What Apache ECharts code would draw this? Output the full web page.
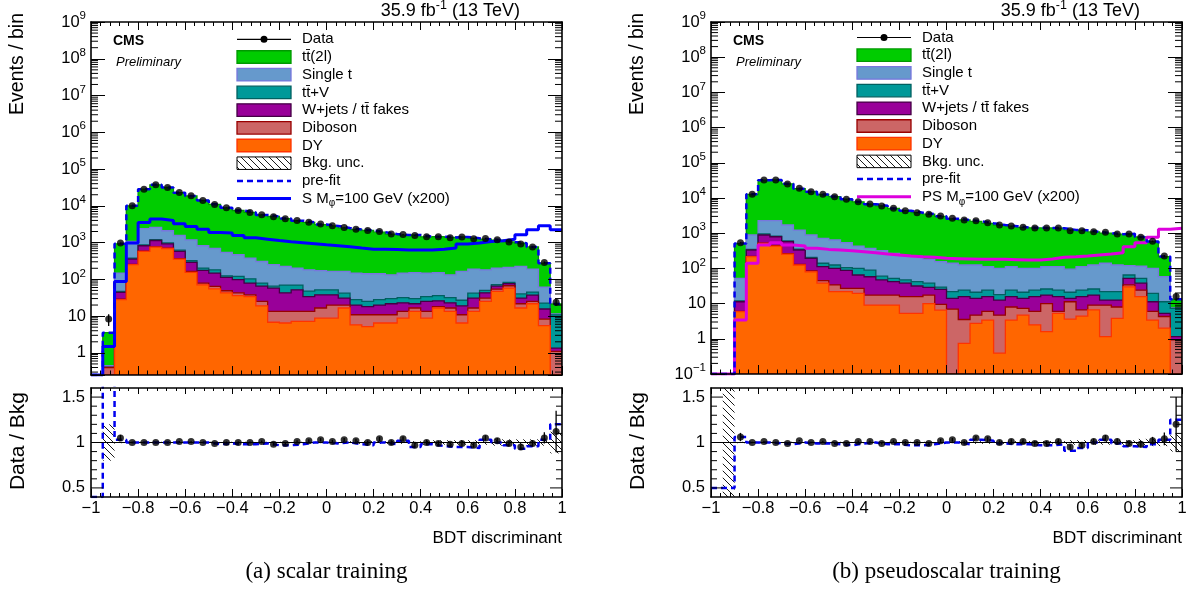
<!DOCTYPE html>
<html>
<head>
<meta charset="utf-8">
<title>BDT discriminant</title>
<script src="https://cdn.jsdelivr.net/npm/echarts@6.0.0/dist/echarts.min.js"></script>
<style>
  html, body { margin: 0; padding: 0; background: #fff; }
  #chart { width: 1196px; height: 592px; }
</style>
</head>
<body>
<div id="chart"></div>
<script>
// 40 bins of the BDT discriminant
const binEdges = [-1, -0.95, -0.9, -0.85, -0.8, -0.75, -0.7, -0.65, -0.6, -0.55, -0.5, -0.45, -0.4, -0.35, -0.3, -0.25,
  -0.2, -0.15, -0.1, -0.05, 0, 0.05, 0.1, 0.15, 0.2, 0.25, 0.3, 0.35, 0.4, 0.45, 0.5, 0.55, 0.6, 0.65, 0.7, 0.75, 0.8,
  0.85, 0.9, 0.95, 1];

// (a) scalar training - events per bin
const scalarDY = [0, 0, 28, 250, 573, 753, 690, 356, 155, 71, 55, 43, 36, 34, 19, 6.8, 6.5, 7.2, 7.2, 8.8, 8.8, 16.6,
  5.8, 5.2, 6.5, 6.5, 8.8, 13.4, 8.8, 16.6, 13.4, 6.5, 13.4, 25, 47, 58, 16.6, 21.7, 5.5, 0];
const scalarDiboson = [0, 0.4, 1, 5, 7, 7, 10, 9, 10, 8, 9, 6, 7, 4, 6, 6.7, 7, 6.2, 6.2, 7.8, 11.2, 3.4, 5.1, 5.7, 4.4,
  4.4, 4.6, 3.2, 4.6, 1.4, 3.2, 4.4, 3.2, 6, 7, 9, 5.1, 3.3, 2.8, 1.1];
const scalarWjets = [0, 0, 15, 101, 240, 380, 226, 208, 123, 96, 84, 64, 55, 41, 40, 44.5, 29.5, 38.6, 20.6, 21.4, 18,
  11, 9.1, 7.1, 9.1, 10.8, 9.6, 5.1, 11.6, 8, 6.4, 8.1, 14.4, 12, 11, 9, 9.3, 12, 7.3, 0.25];
const scalarTTV = [0, 0, 3, 19, 40, 60, 54, 47, 32, 28, 34, 12, 22, 24, 14, 7, 27, 18, 14, 14, 14, 11, 8, 7, 8, 8.3, 9,
  8.3, 9, 10, 9, 8, 11, 7, 7, 6, 9, 8, 7, 9.5];
const scalarSingleT = [0, 0.05, 101, 705, 1540, 1400, 1120, 940, 870, 617, 508, 415, 346, 275, 227, 185, 154, 133, 134,
  121, 112, 122, 120, 117, 114, 103, 116, 123, 114, 117, 101, 137, 148, 132, 131, 128, 184, 145, 39, 0.6];
const scalarTT2l = [0, 3.1, 776, 8920, 26000, 34600, 29400, 21200, 17300, 13180, 10310, 8290, 6990, 6220, 5320, 4870,
  4260, 3750, 3350, 2920, 2670, 2340, 2120, 1990, 1780, 1570, 1450, 1460, 1290, 1300, 1250, 1260, 1120, 1050, 967, 830,
  736, 573, 212, 9.9];
const scalarSignal = [0, 1.5, 87, 970, 3500, 4350, 3990, 3240, 2740, 2320, 1880, 1810, 1560, 1350, 1240, 1140, 1050, 990,
  930, 870, 820, 770, 710, 660, 660, 650, 630, 630, 630, 660, 710, 910, 970, 1070, 1120, 1240, 1630, 2230, 2860, 2230];
const scalarData = [null, 8.3, 970, 10000, 28400, 37200, 31500, 23000, 18700, 14000, 10900, 8830, 7460, 6600, 5690, 5020,
  4440, 3990, 3600, 3180, 2860, 2580, 2320, 2130, 2000, 1700, 1660, 1560, 1440, 1440, 1350, 1410, 1270, 1290, 1190, 1030,
  910, 755, 288, 24];
const scalarRatio = [null, null, 1.05, 1.0, 1.0, 1.0, 1.0, 1.01, 1.01, 1.0, 0.99, 1.0, 1.0, 1.0, 1.01, 0.98, 0.99, 1.01,
  1.02, 1.03, 1.01, 1.03, 1.02, 1.0, 1.04, 1.0, 1.04, 0.97, 1.0, 0.99, 0.98, 0.99, 0.97, 1.05, 1.02, 0.99, 0.95, 0.99,
  1.05, 1.12];
const scalarPrefitRatio = [0, 3, 1.03, 1, 1, 1, 1, 1, 1, 1, 0.98, 0.99, 0.98, 0.98, 0.99, 0.97, 0.97, 0.98, 1, 1, 0.99, 1,
  0.98, 0.97, 1, 0.98, 1.02, 0.95, 0.98, 0.96, 0.95, 0.95, 0.94, 1.03, 1, 0.97, 0.93, 0.96, 1.03, 1.2];
const scalarUnc = [0, 0.2, 0.008, 0.008, 0.008, 0.008, 0.008, 0.008, 0.008, 0.008, 0.008, 0.008, 0.008, 0.008, 0.008,
  0.008, 0.008, 0.008, 0.008, 0.008, 0.008, 0.015, 0.015, 0.015, 0.015, 0.015, 0.015, 0.015, 0.025, 0.025, 0.025, 0.025,
  0.025, 0.025, 0.035, 0.035, 0.035, 0.035, 0.035, 0.12];

// (b) pseudoscalar training - events per bin
const pseudoDY = [0, 0, 5.9, 215, 517, 432, 256, 125, 80, 38, 22, 22, 19.5, 9.1, 9.1, 9.1, 5.3, 5.3, 10, 6.5, 0, 0.74,
  2.75, 3.4, 0.39, 3.4, 4.7, 2.5, 1.6, 5.3, 3.6, 4.4, 6.6, 1.15, 3.8, 30, 15.7, 3.4, 2.0, 0];
const pseudoDiboson = [0, 0, 0.1, 3, 8, 8, 6, 5, 5, 7, 12, 5, 7.5, 8.4, 8.4, 8.4, 10.5, 10.5, 7.5, 3, 7, 2.8, 1.95, 2.6,
  4.3, 4.6, 2.6, 3.5, 8.4, 0.7, 7.7, 2.2, 2.4, 7.85, 4.2, 4, 8.3, 2.6, 2.3, 0.93];
const pseudoWjets = [0, 0, 5.3, 115, 364, 354, 313, 203, 108, 67, 66, 61, 38, 40.5, 29.5, 24.5, 22.2, 15.8, 11.5, 16, 7,
  12.3, 9.3, 9.8, 7.9, 7.8, 6.7, 9.8, 7.5, 9.8, 2.7, 9.2, 8.5, 3.6, 4.6, 18, 14, 5.3, 1.0, 0.22];
const pseudoTTV = [0, 0, 0.7, 12, 61, 36, 25, 17, 12, 28, 25, 17, 35, 31, 13, 10, 9, 10.4, 9, 4, 8, 8.2, 7, 8.2, 5.4, 8.2,
  7, 8.2, 8.5, 8.2, 7, 8.2, 8.5, 9.4, 9.4, 13, 14, 8.3, 6.0, 6.15];
const pseudoSingleT = [0, 0, 40, 544, 1320, 1440, 1110, 880, 684, 576, 516, 432, 332, 282, 259, 216, 178, 173, 143, 126,
  118, 101, 104, 88, 82, 88, 79, 76, 86, 88, 74, 88, 99, 118, 103, 55, 63, 80, 47, 0.3];
const pseudoTT2l = [0, 0, 455, 11800, 29900, 30200, 23500, 17200, 14200, 11850, 10370, 8720, 7360, 6320, 5670, 4760, 4135,
  3615, 3290, 2864, 2420, 2245, 2035, 1800, 1610, 1468, 1355, 1320, 1302, 1274, 1147, 1104, 964, 870, 815, 840, 665, 478,
  158, 5.6];
const pseudoSignal = [0, 0, 3.4, 140, 462, 537, 462, 432, 371, 347, 333, 319, 299, 280, 256, 240, 225, 215, 206, 193, 189,
  185, 181, 181, 181, 177, 173, 173, 185, 206, 215, 225, 240, 256, 280, 414, 537, 764, 1290, 1380];
const pseudoData = [null, null, 537, 12700, 32500, 32500, 25000, 18800, 15100, 12700, 10900, 9170, 7870, 6760, 5930, 5080,
  4360, 3830, 3440, 3080, 2640, 2370, 2270, 1990, 1710, 1600, 1470, 1410, 1400, 1400, 1180, 1180, 1100, 1060, 950, 950,
  764, 590, 225, 15.8];
const pseudoRatio = [null, null, 1.06, 1.0, 1.01, 1.0, 0.99, 1.02, 1.0, 1.01, 0.99, 0.99, 1.01, 1.01, 0.99, 1.01, 1.0, 1.0,
  0.99, 1.02, 1.03, 1.0, 1.05, 1.04, 1.0, 1.01, 1.01, 0.99, 0.99, 1.01, 0.95, 0.97, 1.01, 1.05, 1.01, 0.99, 0.98, 1.02,
  1.04, 1.2];
const pseudoPrefitRatio = [0.5, 0.5, 1.06, 1, 1, 0.99, 0.98, 1, 0.99, 0.99, 0.98, 0.97, 0.99, 1, 0.98, 0.98, 0.97, 0.97,
  0.98, 1, 1, 0.98, 1.03, 1.02, 0.99, 0.98, 0.98, 0.97, 0.97, 0.98, 0.91, 0.94, 1, 1.03, 0.99, 0.96, 0.95, 0.98, 1.03, 1.25];
const pseudoUnc = [0, 1, 0.008, 0.008, 0.008, 0.008, 0.008, 0.008, 0.008, 0.008, 0.008, 0.008, 0.008, 0.008, 0.008, 0.008,
  0.008, 0.008, 0.008, 0.008, 0.008, 0.015, 0.015, 0.015, 0.015, 0.015, 0.015, 0.015, 0.015, 0.015, 0.025, 0.025, 0.025,
  0.025, 0.025, 0.025, 0.04, 0.04, 0.04, 0.1];

const FONT = 'Liberation Sans';
const TT = 't\u0074\u0304';

// stack order, bottom to top
const layerStyles = [
  { name: 'DY', fill: '#ff6600', stroke: '#ff3300' },
  { name: 'Diboson', fill: '#cc6666', stroke: '#990000' },
  { name: 'W+jets / ' + TT + ' fakes', fill: '#990099', stroke: '#440044' },
  { name: TT + '+V', fill: '#009999', stroke: '#006060' },
  { name: 'Single t', fill: '#6699cc', stroke: '#7777dd' },
  { name: TT + '(2l)', fill: '#00cc00', stroke: '#009900' }
];

const panels = [
  {
    left: 91, upH: 353, ymin: 0.25, logInterval: null, legendY: 39.3,
    signalColor: '#0000ff', signalLabel: 'S M{sub|\u03c6}=100 GeV (x200)', caption: '(a) scalar training',
    stack: [scalarDY, scalarDiboson, scalarWjets, scalarTTV, scalarSingleT, scalarTT2l],
    data: scalarData, signal: scalarSignal, ratio: scalarRatio, prefit: scalarPrefitRatio, unc: scalarUnc
  },
  {
    left: 711, upH: 352, ymin: 0.1, logInterval: 1, legendY: 37.5,
    signalColor: '#dd00dd', signalLabel: 'PS M{sub|\u03c6}=100 GeV (x200)', caption: '(b) pseudoscalar training',
    stack: [pseudoDY, pseudoDiboson, pseudoWjets, pseudoTTV, pseudoSingleT, pseudoTT2l],
    data: pseudoData, signal: pseudoSignal, ratio: pseudoRatio, prefit: pseudoPrefitRatio, unc: pseudoUnc
  }
];

const PW = 471, RAT_TOP = 388, RAT_H = 109, RMIN = 0.4, RMAX = 1.6;
const centers = binEdges.slice(0, -1).map((e, i) => (e + binEdges[i + 1]) / 2);

// hatch pattern for the background uncertainty
const hatchCanvas = document.createElement('canvas');
hatchCanvas.width = 7; hatchCanvas.height = 7;
(function () {
  const g = hatchCanvas.getContext('2d');
  g.strokeStyle = '#000'; g.lineWidth = 0.9;
  g.beginPath();
  g.moveTo(-1, -1); g.lineTo(8, 8);
  g.moveTo(6, -1); g.lineTo(8, 1);
  g.moveTo(-1, 6); g.lineTo(1, 8);
  g.stroke();
})();
const hatch = { image: hatchCanvas, repeat: 'repeat' };

const grids = [], xAxes = [], yAxes = [], series = [], graphics = [];

function xFmt(v) {
  const s = String(Math.round(v * 10) / 10);
  return v < -1e-9 ? '\u2212' + s.slice(1) : s;
}
function logFmt(v) {
  const e = Math.log10(v), r = Math.round(e);
  if (Math.abs(e - r) > 1e-6) return '';
  if (r === 0) return '1';
  if (r === 1) return '10';
  return '10{s|' + (r < 0 ? '\u2212' + (-r) : r) + '}';
}
function ratioFmt(v) {
  for (const m of [0.5, 1, 1.5]) if (Math.abs(v - m) < 1e-6) return String(m);
  return '';
}

const lineAx = { onZero: false, lineStyle: { color: '#000', width: 1.6 } };
const tickStyle = { color: '#000', width: 1 };

function addX(grid, pos, showLabels, len) {
  xAxes.push({
    type: 'value', gridIndex: grid, position: pos, min: -1, max: 1, interval: 0.2, z: 10,
    axisLine: lineAx, splitLine: { show: false },
    axisTick: { inside: true, length: len, lineStyle: tickStyle },
    minorTick: { show: true, splitNumber: 5, length: len / 2, lineStyle: tickStyle },
    axisLabel: showLabels
      ? { show: true, formatter: xFmt, fontFamily: FONT, fontSize: 16.5, color: '#000', margin: 3 }
      : { show: false }
  });
  return xAxes.length - 1;
}
function addLogY(grid, pos, p, showLabels) {
  const ax = {
    type: 'log', gridIndex: grid, position: pos, min: p.ymin, max: 1e9, splitNumber: 10, z: 10,
    axisLine: lineAx, splitLine: { show: false },
    axisTick: { inside: true, length: 14, lineStyle: tickStyle },
    axisLabel: showLabels ? {
      show: true, formatter: logFmt, fontFamily: FONT, fontSize: 16.5, color: '#000', margin: 5,
      showMinLabel: true, showMaxLabel: true,
      rich: { s: { fontFamily: FONT, fontSize: 11.5, color: '#000', padding: [0, 0, 12, 0] } }
    } : { show: false }
  };
  if (p.logInterval) ax.interval = p.logInterval;
  yAxes.push(ax);
  return yAxes.length - 1;
}
function addRatioY(grid, pos, showLabels) {
  yAxes.push({
    type: 'value', gridIndex: grid, position: pos, min: RMIN, max: RMAX, interval: 0.1, z: 10,
    axisLine: lineAx, splitLine: { show: false }, axisTick: { show: false },
    axisLabel: showLabels
      ? { show: true, formatter: ratioFmt, fontFamily: FONT, fontSize: 16.5, color: '#000', margin: 6,
          showMinLabel: true, showMaxLabel: true }
      : { show: false }
  });
  return yAxes.length - 1;
}

function stepData(vals, floor, ceil) {
  return binEdges.map((e, i) => {
    let v = vals[Math.min(i, vals.length - 1)];
    v = Math.max(v, floor);
    if (ceil != null) v = Math.min(v, ceil);
    return [e, v];
  });
}

// y-axis tick marks on both frame sides, drawn through the axis scale
function tickSeries(xi, yi, values, lenOf) {
  return {
    type: 'custom', xAxisIndex: xi, yAxisIndex: yi, z: 11, silent: true, clip: false,
    data: values.map(v => [-1, v]),
    renderItem: function (params, api) {
      const v = api.value(1), len = lenOf(v);
      const a = api.coord([-1, v]), b = api.coord([1, v]);
      return {
        type: 'group', children: [
          { type: 'line', shape: { x1: a[0], y1: a[1], x2: a[0] + len, y2: a[1] }, style: { stroke: '#000', lineWidth: 1 } },
          { type: 'line', shape: { x1: b[0] - len, y1: b[1], x2: b[0], y2: b[1] }, style: { stroke: '#000', lineWidth: 1 } }
        ]
      };
    }
  };
}

function errSeries(xi, yi, rows, floor) {
  return {
    type: 'custom', xAxisIndex: xi, yAxisIndex: yi, z: 6, silent: true, clip: true,
    data: rows,
    renderItem: function (params, api) {
      const x = api.value(0), lo = Math.max(api.value(2), floor), hi = api.value(3);
      const a = api.coord([x, lo]), b = api.coord([x, hi]);
      return { type: 'line', shape: { x1: a[0], y1: a[1], x2: b[0], y2: b[1] }, style: { stroke: '#000', lineWidth: 1.3 } };
    }
  };
}

function text(x, y, str, extra) {
  graphics.push({
    type: 'text', x: x, y: y, z: 20, silent: true, rotation: (extra && extra.rotation) || 0,
    style: Object.assign({ text: str, fontFamily: FONT, fontSize: 17, fill: '#000', align: 'left', verticalAlign: 'middle' },
      extra && extra.style)
  });
}

panels.forEach(function (p) {
  const L = p.left;
  const gUp = grids.length; grids.push({ left: L, top: 22, width: PW, height: p.upH });
  const gRat = grids.length; grids.push({ left: L, top: RAT_TOP, width: PW, height: RAT_H });

  const xu = addX(gUp, 'bottom', false, 9); addX(gUp, 'top', false, 8);
  const xr = addX(gRat, 'bottom', true, 8); addX(gRat, 'top', false, 6);
  const yu = addLogY(gUp, 'left', p, true); addLogY(gUp, 'right', p, false);
  const yr = addRatioY(gRat, 'left', true); addRatioY(gRat, 'right', false);

  // cumulative stack
  const cum = [];
  let run = new Array(centers.length).fill(0);
  p.stack.forEach(arr => { run = run.map((v, i) => v + arr[i]); cum.push(run); });
  const total = cum[cum.length - 1];

  // draw from the top layer down, each filled from the axis floor
  for (let k = cum.length - 1; k >= 0; k--) {
    const tops = cum[k], st = layerStyles[k];
    series.push({
      type: 'custom', name: st.name, xAxisIndex: xu, yAxisIndex: yu, z: 2, silent: true, clip: true,
      data: [[0, 1]],
      renderItem: function (params, api) {
        const pts = [api.coord([binEdges[0], p.ymin])];
        tops.forEach((t, i) => {
          const v = Math.max(t, p.ymin);
          pts.push(api.coord([binEdges[i], v]));
          pts.push(api.coord([binEdges[i + 1], v]));
        });
        pts.push(api.coord([binEdges[binEdges.length - 1], p.ymin]));
        return { type: 'polygon', shape: { points: pts }, style: { fill: st.fill, stroke: st.stroke, lineWidth: 1.3 } };
      }
    });
  }

  series.push({
    type: 'line', name: 'signal', xAxisIndex: xu, yAxisIndex: yu, step: 'end', symbol: 'none', z: 3, silent: true,
    data: stepData(p.signal, p.ymin), lineStyle: { color: p.signalColor, width: 3 }
  });
  series.push({
    type: 'line', name: 'pre-fit', xAxisIndex: xu, yAxisIndex: yu, step: 'end', symbol: 'none', z: 4, silent: true,
    data: stepData(total, p.ymin), lineStyle: { color: '#0000ee', width: 2.5, type: [6, 4] }
  });

  const dataRows = [], errRows = [];
  p.data.forEach((v, i) => {
    if (v == null) return;
    dataRows.push([centers[i], v]);
    errRows.push([centers[i], v, v - Math.sqrt(v), v + Math.sqrt(v)]);
  });
  series.push(errSeries(xu, yu, errRows, p.ymin));
  series.push({
    type: 'scatter', name: 'Data', xAxisIndex: xu, yAxisIndex: yu, z: 7, silent: true,
    symbol: 'circle', symbolSize: 7, itemStyle: { color: '#000' }, data: dataRows
  });

  // minor log ticks (2..9 x 10^n)
  const minor = [];
  for (let e = Math.floor(Math.log10(p.ymin)); e < 9; e++) {
    for (let m = 2; m <= 9; m++) {
      const v = m * Math.pow(10, e);
      if (v > p.ymin * 1.0001 && v < 1e9) minor.push(v);
    }
  }
  series.push(tickSeries(xu, yu, minor, () => 7));

  // ratio panel
  series.push({
    type: 'custom', name: 'Bkg. unc.', xAxisIndex: xr, yAxisIndex: yr, z: 2, silent: true, clip: true,
    data: p.unc.map((u, i) => [centers[i], 1, i]),
    renderItem: function (params, api) {
      const i = api.value(2), u = p.unc[i];
      if (!u) return null;
      const a = api.coord([binEdges[i], Math.min(1 + u, RMAX)]);
      const b = api.coord([binEdges[i + 1], Math.max(1 - u, RMIN)]);
      return { type: 'rect', shape: { x: a[0], y: a[1], width: b[0] - a[0], height: b[1] - a[1] }, style: { fill: hatch } };
    }
  });
  series.push({
    type: 'line', xAxisIndex: xr, yAxisIndex: yr, symbol: 'none', z: 3, silent: true,
    data: [[-1, 1], [1, 1]], lineStyle: { color: '#000', width: 1 }
  });
  series.push({
    type: 'line', xAxisIndex: xr, yAxisIndex: yr, step: 'end', symbol: 'none', z: 4, silent: true,
    data: stepData(p.prefit, RMIN), lineStyle: { color: '#0000ee', width: 2.5, type: [6, 4] }
  });
  const rRows = [], rErr = [];
  p.ratio.forEach((r, i) => {
    if (r == null) return;
    const e = r / Math.sqrt(p.data[i]);
    rRows.push([centers[i], r]);
    rErr.push([centers[i], r, r - e, r + e]);
  });
  series.push(errSeries(xr, yr, rErr, RMIN));
  series.push({
    type: 'scatter', xAxisIndex: xr, yAxisIndex: yr, z: 7, silent: true,
    symbol: 'circle', symbolSize: 7, itemStyle: { color: '#000' }, data: rRows
  });
  const rTicks = [];
  for (let k = 5; k <= 15; k++) rTicks.push(k / 10);
  series.push(tickSeries(xr, yr, rTicks, v => (Math.abs(v * 2 - Math.round(v * 2)) < 1e-6 ? 12 : 6)));

  // texts
  text(L + 429, 11, '35.9 fb{s|-1} (13 TeV)', {
    style: { align: 'right', fontSize: 18, rich: { s: { fontFamily: FONT, fontSize: 12.5, fill: '#000', padding: [0, 0, 11, 0] } } }
  });
  text(L + 22, 41, 'CMS', { style: { fontWeight: 'bold', fontSize: 14 } });
  text(L + 25, 62, 'Preliminary', { style: { fontStyle: 'italic', fontSize: 13 } });
  text(L - 73, 13, 'Events / bin', { rotation: Math.PI / 2, style: { align: 'right', fontSize: 19.5 } });
  text(L - 73, 392, 'Data / Bkg', { rotation: Math.PI / 2, style: { align: 'right', fontSize: 21 } });
  text(L + PW, 538, 'BDT discriminant', { style: { align: 'right' } });
  text(L + PW / 2, 572, p.caption, { style: { align: 'center', fontFamily: 'Liberation Serif', fontSize: 23 } });

  // legend
  const bx = L + 146, bw = 54, bh = 12.5, tx = L + 211, dy = 17.7;
  const entries = [
    { kind: 'data', label: 'Data' },
    { kind: 'box', st: layerStyles[5] }, { kind: 'box', st: layerStyles[4] }, { kind: 'box', st: layerStyles[3] },
    { kind: 'box', st: layerStyles[2] }, { kind: 'box', st: layerStyles[1] }, { kind: 'box', st: layerStyles[0] },
    { kind: 'hatch', label: 'Bkg. unc.' },
    { kind: 'dash', label: 'pre-fit' },
    { kind: 'line', label: p.signalLabel }
  ];
  entries.forEach((en, k) => {
    const y = p.legendY + k * dy;
    if (en.kind === 'data') {
      graphics.push({ type: 'line', shape: { x1: bx, y1: y, x2: bx + bw, y2: y }, style: { stroke: '#000', lineWidth: 1.2 } });
      graphics.push({ type: 'circle', shape: { cx: bx + bw / 2, cy: y, r: 3.5 }, style: { fill: '#000' } });
    } else if (en.kind === 'box') {
      graphics.push({ type: 'rect', shape: { x: bx, y: y - bh / 2, width: bw, height: bh },
        style: { fill: en.st.fill, stroke: en.st.stroke, lineWidth: 1.3 } });
    } else if (en.kind === 'hatch') {
      graphics.push({ type: 'rect', shape: { x: bx, y: y - bh / 2, width: bw, height: bh },
        style: { fill: hatch, stroke: '#000', lineWidth: 1 } });
    } else if (en.kind === 'dash') {
      graphics.push({ type: 'line', shape: { x1: bx, y1: y, x2: bx + bw, y2: y },
        style: { stroke: '#0000ee', lineWidth: 2.5, lineDash: [6, 4] } });
    } else {
      graphics.push({ type: 'line', shape: { x1: bx, y1: y, x2: bx + bw, y2: y },
        style: { stroke: p.signalColor, lineWidth: 3 } });
    }
    text(tx, y, en.label || en.st.name, {
      style: { fontSize: 15, rich: { sub: { fontFamily: FONT, fontSize: 10, fill: '#000', padding: [10, 0, 0, 0] } } }
    });
  });
});

const chart = echarts.init(document.getElementById('chart'), null, { renderer: 'canvas' });
chart.setOption({
  animation: false,
  grid: grids,
  xAxis: xAxes,
  yAxis: yAxes,
  series: series,
  graphic: graphics
});
window.addEventListener('resize', chart.resize);
</script>
</body>
</html>
